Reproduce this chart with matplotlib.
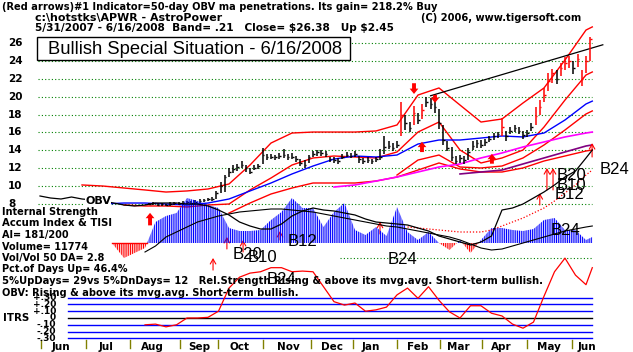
import numpy as np
import matplotlib
matplotlib.use("Agg")
import matplotlib.pyplot as plt
from matplotlib.patches import Rectangle
from matplotlib.transforms import blended_transform_factory

W, H = 633, 352
plt.rcParams['font.family'] = ['DejaVu Sans']
plt.rcParams['hatch.linewidth'] = 0.75

# ---------------- data ----------------
# price bars, one every 2nd trading day (day 0 = 5/31/2007)
bar_days = list(range(52, 263, 2))
cl = [8.0, 8.1, 7.9, 8.0, 7.9, 8.0, 8.1, 8.0, 8.1, 8.2, 8.1, 8.2, 8.3, 8.4, 8.5, 8.6,
      9.2, 10.0, 11.0, 11.6, 11.9, 12.1, 12.3, 12.0, 11.6, 12.0, 12.2, 13.5, 13.2, 13.3,
      13.2, 13.4, 13.5, 13.2, 13.3, 13.0, 12.6, 12.4, 13.3, 13.6, 13.8, 13.7, 13.6, 13.0,
      12.9, 12.8, 13.3, 13.5, 13.4, 13.6, 13.0, 12.8, 12.9, 12.8, 13.0, 13.3, 14.4, 14.5,
      14.3, 14.6, 18.0, 17.0, 16.5, 18.2, 17.4, 18.5, 19.4, 19.2, 18.8, 17.0, 15.2, 14.3,
      13.2, 12.8, 13.1, 12.9, 13.8, 14.5, 14.8, 14.6, 14.9, 15.3, 15.6, 15.8, 16.6, 15.6,
      16.2, 16.5, 16.2, 15.7, 15.9, 16.6, 17.8, 18.8, 20.2, 21.8, 22.6, 22.0, 23.2, 23.8,
      24.0, 23.2, 24.2, 22.0, 24.0, 26.4]
lo = [7.9, 7.9, 7.8, 7.8, 7.8, 7.8, 7.9, 7.9, 7.9, 8.0, 8.0, 8.0, 8.1, 8.2, 8.3, 8.3,
      8.5, 9.2, 9.3, 11.0, 11.5, 11.7, 12.0, 11.6, 11.3, 11.8, 11.9, 12.5, 12.9, 13.0,
      12.9, 13.0, 13.1, 12.9, 13.0, 12.7, 12.2, 12.0, 12.6, 13.2, 13.4, 13.4, 13.2, 12.7,
      12.6, 12.5, 13.0, 13.2, 13.1, 13.2, 12.6, 12.5, 12.6, 12.5, 12.7, 12.9, 13.6, 14.1,
      13.9, 14.2, 15.6, 16.3, 16.0, 16.8, 16.9, 17.5, 18.8, 18.6, 18.2, 16.4, 14.6, 13.9,
      12.8, 12.5, 12.6, 12.5, 12.9, 14.0, 14.3, 14.2, 14.5, 14.9, 15.2, 15.4, 15.6, 15.0,
      15.8, 16.0, 15.8, 15.3, 15.5, 16.2, 16.8, 18.0, 19.4, 20.6, 21.5, 21.4, 22.3, 23.0,
      23.2, 22.5, 23.3, 21.2, 22.6, 24.0]
hi = [8.1, 8.2, 8.1, 8.1, 8.0, 8.2, 8.2, 8.2, 8.3, 8.3, 8.3, 8.4, 8.5, 8.6, 8.7, 8.8,
      9.4, 10.4, 11.2, 12.0, 12.3, 12.5, 12.8, 12.4, 12.0, 12.3, 12.5, 14.2, 13.6, 13.6,
      13.5, 13.7, 14.1, 13.6, 13.7, 13.4, 13.0, 12.9, 13.5, 13.9, 14.0, 14.0, 13.9, 13.3,
      13.2, 13.1, 13.6, 13.8, 13.7, 13.9, 13.4, 13.1, 13.2, 13.0, 13.3, 14.1, 15.6, 15.0,
      14.8, 15.0, 19.4, 17.9, 17.2, 19.0, 18.2, 19.2, 20.0, 19.8, 19.5, 18.6, 16.8, 15.0,
      14.4, 13.4, 13.5, 13.4, 14.3, 15.0, 15.2, 15.1, 15.3, 15.6, 15.9, 16.1, 17.6, 16.2,
      16.6, 16.8, 16.6, 16.2, 16.3, 17.0, 18.8, 19.6, 21.0, 22.6, 23.1, 23.0, 23.8, 24.4,
      24.6, 24.0, 24.8, 23.0, 24.6, 26.7]
red_bars = [60, 63, 65, 84, 92, 93, 94, 95, 96, 98, 99, 100, 102, 103, 104, 105]

# price bands / moving averages, every 10 trading days
band_days = [0, 10, 20, 30, 40, 50, 60, 70, 80, 90, 100, 110, 120, 130, 140,
             150, 160, 170, 180, 190, 200, 210, 220, 230, 240, 250, 260, 263]
nan = np.nan
upper_band = [nan, nan, 10.12, 10.0, 9.78, 9.56, 9.33, 9.45, 9.67, 10.23, 12.35, 14.81, 15.93,
              16.04, 16.04, 16.04, 16.16, 16.83, 20.18, 20.97, 19.06, 17.16, 17.5, 19.29,
              20.97, 24.1, 27.45, 27.8]
mid_band = [nan, nan, nan, nan, 7.88, 7.77, 7.77, 7.66, 7.88, 7.99, 9.56, 10.9, 12.35, 13.14,
            13.36, 13.25, 13.14, 13.81, 16.04, 17.16, 14.03, 12.58, 13.14, 14.03, 16.6, 19.62,
            22.42, 22.76]
lower_band = [nan, nan, nan, nan, nan, nan, nan, nan, nan, 6.98, 8.1, 9.11, 9.78, 10.34, 10.34,
              10.34, 10.56, 11.01, 11.79, 12.58, 11.91, 11.57, 11.57, 12.02, 12.8, 13.36,
              13.92, 14.03]
lower_band2 = [nan, nan, nan, nan, nan, nan, nan, nan, nan, nan, nan, nan, nan, nan, nan, nan,
               nan, 11.23, 12.91, 13.47, 12.13, 12.02, 12.24, 13.14, 14.59, 16.27, 18.06, 18.4]
ma50 = [nan, nan, nan, 7.99, 8.1, 8.1, 7.99, 7.88, 8.1, 8.55, 9.45, 10.34, 11.35, 12.24, 13.02,
        13.36, 13.25, 13.47, 14.7, 15.15, 15.15, 15.37, 15.6, 15.49, 15.93, 17.39, 19.18, 19.5]
ma_pink = [nan, nan, nan, nan, nan, nan, nan, nan, nan, nan, nan, nan, nan, nan, 9.89, 10.12,
           10.56, 11.01, 11.57, 12.13, 12.47, 13.14, 13.7, 14.37, 14.93, 15.49, 15.93, 16.04]
ma_purple = [nan, nan, nan, nan, nan, nan, nan, nan, nan, nan, nan, nan, nan, nan, nan, nan,
             nan, nan, nan, nan, 11.35, 11.57, 11.79, 12.47, 13.14, 13.81, 14.48, 14.6]
trend_days = [186, 268]
trend_prices = [20.1, 25.8]

# indicators, every 5 trading days
ind_days = list(range(0, 261, 5)) + [263]
accum = [nan, nan, nan, nan, nan, nan, nan, -2, -15, -10, -5, 21, 27, 30, 45, 42, 38, 35, 15,
         12, 12, 13, 23, 31, 45, 35, 35, 16, 31, 40, 13, 8, 16, 7, 36, 11, 3, 11, 0, -7, 3,
         -10, 3, 15, 15, 13, 12, 14, 23, 25, 13, 13, 3, 6]
tisi = [nan, nan, nan, nan, nan, nan, nan, nan, nan, nan, -9, -3, 6, 11, 16, 21, 24, 27, 29,
        31, 32, 33, 34, 34, 33, 32, 31, 29, 27, 25, 23, 21, 19, 17, 16, 14, 12, 10, 8, 6, 3,
        -1, -5, -7, -6, -3, 0, 3, 6, 9, 12, 14, 16, 17]
obv = [47, 45, 44, 46, 44, 43, 42, 40, 38, 37, 38, 40, 40, 40, 39, 39, 37, 33, 28, 21, 17, 14,
       14, 19, 27, 32, 35, 33, 32, 30, 28, 24, 21, 20, 19, 18, 15, 12, 7, 4, 1, -2, 1, 7, 33,
       35, 39, 45, 51, 58, 66, 72, 85, 93]
obv_ma = [nan] * 35 + [16, 15, 14, 13, 12, 11, 11, 11, 13, 17, 21, 25, 30, 35, 42, 50, 58, 68, 73]
itrs = [nan, nan, nan, nan, nan, nan, nan, nan, nan, nan, -0.10, -0.09, -0.13, -0.10, 0.0, 0.0,
        0.01, 0.10, 0.44, 0.60, 0.66, 0.68, 0.74, 0.74, 0.68, 0.69, 0.68, 0.46, 0.24, 0.19,
        0.22, 0.10, 0.12, 0.16, 0.34, 0.44, 0.29, 0.46, 0.26, 0.09, 0.0, 0.18, 0.18, 0.07,
        0.03, -0.09, -0.15, -0.06, 0.32, 0.68, 0.88, 0.63, 0.49, 0.74]
itrs_levels = [0.3, 0.2, 0.1, 0.0, -0.1, -0.2, -0.3]
itrs_labels = ['+.30', '+.20', '+.10', '0', '-.10', '-.20', '-.30']

month_names = ['Jun', 'Jul', 'Aug', 'Sep', 'Oct', 'Nov', 'Dec', 'Jan', 'Feb', 'Mar', 'Apr', 'May', 'Jun']
month_ticks = [0.5, 21.9, 42.9, 66.7, 84.8, 106.2, 129.0, 149.0, 170.0, 190.5, 210.5, 232.0, 253.3]
month_mid = [10, 31.4, 53.3, 75.7, 94.8, 118.1, 139, 157.6, 180, 199, 219.5, 242.4, 260.5]
grid_prices = [26, 24, 22, 20, 18, 16, 14, 12, 10, 8]

# signal arrows: (day, tip, tail) in price units
big_up = [(52.4, 7.0, 5.6), (181.9, 14.95, 13.8), (215.2, 13.6, 12.5)]
big_down = [(178.1, 20.3, 21.5), (188.1, 19.3, 20.2)]
thin_up = [(82.4, 1.95, 0.6), (89.0, 4.3, 2.96), (96.7, 3.96, 2.62), (114.3, 4.97, 3.96),
           (161.9, 6.0, 4.64), (238.0, 9.2, 7.88), (241.4, 12.0, 9.56), (244.3, 12.0, 9.56),
           (262.9, 14.8, 13.25)]
# B-signal labels: (text, day, price)
b_labels = [('B24', 266.7, 11.8), ('B20', 246.0, 11.2), ('B10', 246.0, 10.1), ('B12', 245.0, 9.1),
            ('B24', 243.0, 5.0), ('B24', 165.5, 1.8), ('B12', 118.0, 3.8), ('B20', 91.5, 2.3),
            ('B10', 99.0, 2.0), ('B24', 108.0, -0.5)]

# ---------------- figure ----------------
fig = plt.figure(figsize=(W / 100, H / 100), dpi=100)
renderer = fig.canvas.get_renderer()
xl = (-40 / 2.1, (W - 40) / 2.1)


def panel(y0_px, v0, px_per_unit):
    ax = fig.add_axes([0, 0, 1, 1])
    ax.set_xlim(*xl)
    ax.set_ylim(v0 - (H - y0_px) / px_per_unit, v0 + y0_px / px_per_unit)
    ax.axis('off')
    ax.patch.set_alpha(0)
    return ax


axp = panel(43, 26, 8.94)     # price
axi = panel(243, 0, 1.0)      # accumulation / OBV
axr = panel(318, 0, 68.0)     # ITRS


def ftext(x, y, s, width=None, **kw):
    kw.setdefault('fontsize', 7.5)
    kw.setdefault('fontweight', 'bold')
    kw.setdefault('va', 'center')
    t = fig.text(x / W, 1 - y / H, s, **kw)
    if width:
        w = t.get_window_extent(renderer).width
        t.set_fontsize(t.get_fontsize() * width / w)
    return t


# grid
gx0, gx1 = -2 / 2.1, 552 / 2.1
for p in grid_prices:
    axp.plot([gx0, gx1], [p, p], color='#008000', lw=0.8, ls=(0, (1, 2)))
    axp.text(8 / W, p, str(p), transform=blended_transform_factory(fig.transFigure, axp.transData),
             fontsize=7.5, fontweight='bold', va='center')
axi.plot([(340 - 40) / 2.1, gx1], [-15, -15], color='#008000', lw=0.8, ls=(0, (1, 2)))

# accumulation index histogram
ad = np.array(ind_days, float)
ai = np.array(accum, float)
axi.fill_between(ad, 0, ai, where=ai >= 0, interpolate=True, facecolor='none',
                 edgecolor='blue', hatch='|||||||||', lw=0)
axi.fill_between(ad, 0, ai, where=ai <= 0, interpolate=True, facecolor='none',
                 edgecolor='red', hatch='|||||||||', lw=0)
axi.plot([(112 - 40) / 2.1, (147 - 40) / 2.1], [0, 0], color='red', lw=1)
axi.plot(ind_days, tisi, color='black', lw=0.8)
axi.plot(ind_days, obv_ma, color='red', lw=0.9, ls=(0, (1, 1.5)))
axi.plot(ind_days, obv, color='black', lw=0.9)

# price lines
axp.plot(band_days, upper_band, color='red', lw=1)
axp.plot(band_days, mid_band, color='red', lw=1)
axp.plot(band_days, lower_band, color='red', lw=1)
axp.plot(band_days, lower_band2, color='red', lw=1)
axp.plot(band_days, ma50, color='blue', lw=1)
axp.plot(band_days, ma_pink, color='#ff00ff', lw=1.2)
axp.plot(band_days, ma_purple, color='#800080', lw=1.2)
axp.plot(trend_days, trend_prices, color='black', lw=0.9)

# price bars
colors = ['red' if i in red_bars else 'black' for i in range(len(bar_days))]
bd = np.array(bar_days, float)
axp.vlines(bd, lo, hi, colors=colors, lw=1.1)
axp.hlines(cl, bd, bd + 0.8, colors=colors, lw=1.0)

# arrows
for d, tip, tail in big_up + big_down:
    axp.annotate('', xy=(d, tip), xytext=(d, tail),
                 arrowprops=dict(arrowstyle='simple,head_length=0.55,head_width=0.9,tail_width=0.4',
                                 fc='red', ec='red', lw=0, shrinkA=0, shrinkB=0, mutation_scale=7))
for d, tip, tail in thin_up:
    axp.annotate('', xy=(d, tip), xytext=(d, tail),
                 arrowprops=dict(arrowstyle='->,head_length=0.35,head_width=0.2', color='red',
                                 lw=0.8, shrinkA=0, shrinkB=0, mutation_scale=10))

# ITRS panel
rx0 = (68 - 40) / 2.1
for lev, lab in zip(itrs_levels, itrs_labels):
    axr.plot([rx0, gx1], [lev, lev], color='black' if lev == 0 else 'blue', lw=1)
    axr.text(56 / W, lev, lab, transform=blended_transform_factory(fig.transFigure, axr.transData),
             fontsize=6.5, fontweight='bold', va='center', ha='right')
axr.plot(ind_days, itrs, color='red', lw=0.9)

# month axis
for t in month_ticks:
    axp.plot([t, t], [26 - (340 - 43) / 8.94, 26 - (348 - 43) / 8.94], color='#808000', lw=1)
for m, name in zip(month_mid, month_names):
    axp.text(m, 26 - (347 - 43) / 8.94, name, ha='center', va='center', fontsize=7.5,
             fontweight='bold')

# B labels (on the top-most axes so they sit above the histogram)
for s, d, p in b_labels:
    axr.text(d, p, s, transform=axp.transData, fontsize=12, va='center', ha='left',
             family='Liberation Sans')

# header texts
ftext(2, 7, '(Red arrows)#1 Indicator=50-day OBV ma penetrations. Its gain= 218.2% Buy', width=435)
ftext(35, 18, 'c:\\hotstks\\APWR - AstroPower', width=187)
ftext(421, 18, '(C) 2006, www.tigersoft.com', width=160)
ftext(35, 28, '5/31/2007 - 6/16/2008  Band= .21   Close= \\$26.38   Up \\$2.45', width=358)
fig.patches.append(Rectangle((37 / W, 1 - 60 / H), 313 / W, 23 / H, transform=fig.transFigure,
                             fc='white', ec='black', lw=1, zorder=2))
ftext(48, 49, 'Bullish Special Situation - 6/16/2008', width=295, fontsize=13,
      fontweight='normal', family='Liberation Sans', zorder=3)
ftext(85, 201, 'OBV', fontsize=8, bbox=dict(fc='white', ec='none', pad=0.3))

left_lines = ['Internal Strength', 'Accum Index & TISI', 'AI= 181/200', 'Volume= 11774',
              'Vol/Vol 50 DA= 2.8', 'Pct.of Days Up= 46.4%',
              '5%UpDays= 29vs 5%DnDays= 12   Rel.Strength Rising & above its mvg.avg. Short-term bullish.',
              'OBV: Rising & above its mvg.avg. Short-term bullish.']
left_widths = [96, 110, None, None, None, None, 540, 294]
base_size = ftext(2, 212, left_lines[0], width=left_widths[0]).get_fontsize()
for k, (s, wd) in enumerate(zip(left_lines, left_widths)):
    if k == 0:
        continue
    ftext(2, 212 + 11.5 * k, s, width=wd, fontsize=base_size)
ftext(3, 318, 'ITRS', fontsize=base_size * 1.05)

fig.savefig('out.png', dpi=100)
